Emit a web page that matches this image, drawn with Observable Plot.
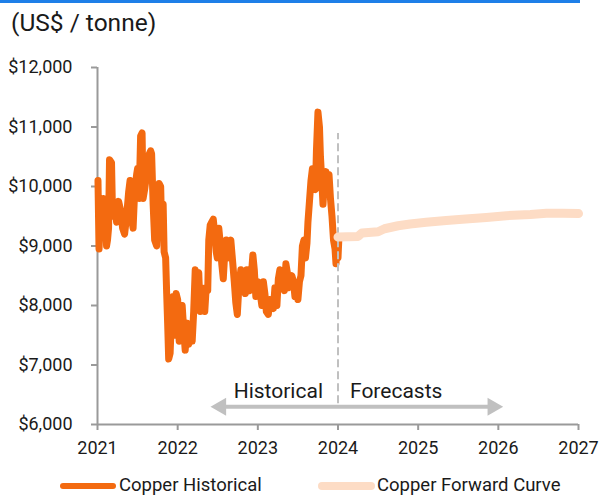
<!DOCTYPE html>
<html><head><meta charset="utf-8">
<script src="https://cdn.jsdelivr.net/npm/d3@7"></script>
<script src="https://cdn.jsdelivr.net/npm/@observablehq/plot@0.6"></script>
<style>
body{margin:0;width:600px;height:495px;position:relative;background:#fff;font-family:Roboto,sans-serif;color:#1a1a1a;overflow:hidden}
#bar{position:absolute;left:0;top:0;width:580px;height:3px;background:#1E7FE8}
#title{position:absolute;left:11px;top:7px;font-size:24.5px;line-height:32px}
#chart{position:absolute;left:0;top:50px}
#legend{position:absolute;left:0;top:475px;width:600px;height:20px;font-size:18.5px}
.sw{position:absolute;top:7px;height:6px;border-radius:3px}
.lt{position:absolute;top:0;line-height:20px}
</style></head>
<body>
<div id="bar"></div>
<div id="title">(US$ / tonne)</div>
<div id="chart"></div>
<div id="legend"></div>
<script>
const xTicks = [2021, 2022, 2023, 2024, 2025, 2026, 2027];
const yTicks = [6000, 7000, 8000, 9000, 10000, 11000, 12000];

const histYear = [2021.006,2021.019,2021.038,2021.056,2021.075,2021.100,2021.113,2021.125,2021.138,2021.150,
2021.175,2021.188,2021.213,2021.238,2021.263,2021.288,2021.313,2021.338,2021.363,2021.388,
2021.406,2021.425,2021.444,2021.463,2021.488,2021.500,2021.519,2021.538,2021.556,2021.569,
2021.588,2021.613,2021.631,2021.663,2021.675,2021.694,2021.713,2021.738,2021.750,2021.769,
2021.788,2021.800,2021.819,2021.831,2021.850,2021.863,2021.875,2021.888,2021.906,2021.925,
2021.944,2021.963,2021.981,2022.000,2022.019,2022.038,2022.056,2022.075,2022.094,2022.119,
2022.138,2022.163,2022.181,2022.200,2022.219,2022.238,2022.263,2022.281,2022.300,2022.319,
2022.338,2022.356,2022.375,2022.388,2022.406,2022.425,2022.444,2022.463,2022.481,2022.494,
2022.513,2022.531,2022.550,2022.569,2022.588,2022.606,2022.625,2022.644,2022.663,2022.688,
2022.706,2022.725,2022.744,2022.763,2022.788,2022.806,2022.825,2022.844,2022.863,2022.881,
2022.900,2022.919,2022.938,2022.956,2022.975,2023.000,2023.025,2023.050,2023.069,2023.088,
2023.106,2023.131,2023.150,2023.175,2023.194,2023.213,2023.238,2023.256,2023.275,2023.294,
2023.313,2023.331,2023.350,2023.369,2023.388,2023.406,2023.425,2023.444,2023.463,2023.481,
2023.500,2023.519,2023.538,2023.556,2023.575,2023.594,2023.613,2023.625,2023.644,2023.663,
2023.681,2023.700,2023.719,2023.731,2023.750,2023.769,2023.781,2023.794,2023.813,2023.831,
2023.850,2023.869,2023.888,2023.906,2023.925,2023.944,2023.963,2023.975,2023.988,2024.000,
2024.010];
const histPrice = [10100,8950,9500,9200,9800,9650,9000,9100,9300,10450,
10400,9500,9700,9400,9750,9600,9300,9200,9500,9900,
10100,9450,9300,9900,10200,10300,9800,10850,10900,9800,
9950,10200,10500,10600,10550,9700,9100,9000,9400,10050,
10000,9300,9700,8900,8800,8200,7700,7100,7200,7900,
8150,7500,8200,8100,7400,7800,8000,7600,7250,7700,
7350,7500,7400,7900,8600,8500,8550,7900,8300,8200,
7900,8300,8250,9100,9350,9400,9450,9200,8900,8800,
9300,9050,8700,8450,8900,9100,8800,9050,9100,8700,
8400,8050,7850,8300,8600,8300,8500,8200,8600,8350,
8250,8500,8850,8600,8150,8400,8250,8000,8400,8200,
7900,7850,8100,8000,7950,8300,8000,8450,8600,8300,
8450,8250,8700,8550,8300,8450,8500,8400,8150,8350,
8100,8400,8500,9000,9100,8800,9050,9400,9750,10100,
10300,10000,9950,10600,11250,11000,10500,10200,9700,10100,
10250,10000,10200,9800,9500,9100,8950,8700,9000,8800,
9100];

const fwdYear = [2024.00,2024.25,2024.30,2024.50,2024.58,2024.75,2024.90,2025.10,2025.35,2025.55,2025.85,2026.10,2026.40,2026.60,2026.80,2027.00];
const fwdPrice = [9150,9160,9220,9240,9290,9340,9370,9400,9430,9450,9480,9510,9530,9550,9550,9545];

const seriesNames = ["Copper Historical", "Copper Forward Curve"];
const seriesColors = ["#F36A10", "#FDDCC5"];

const annoText = ["Historical", "Forecasts"];
const divideYear = 2024;
const arrowFrom = 2022.41, arrowTo = 2026.06, arrowLevel = 6300, labelLevel = 6560;
const dashFrom = 6350, dashTo = 10890;

const hist = histYear.map((x, i) => ({x, y: histPrice[i]}));
const fwd = fwdYear.map((x, i) => ({x, y: fwdPrice[i]}));
const fmt = d3.format(",");
const axisGray = "#9a9a9a";
const arrowGray = "#c0c0c0";

const chart = Plot.plot({
  width: 600, height: 420,
  marginTop: 17, marginBottom: 46, marginLeft: 97, marginRight: 22,
  x: {domain: [2021, 2027]},
  y: {domain: [6000, 12000]},
  style: {fontFamily: "Roboto", fontSize: "18px", color: "#1a1a1a", background: "white", overflow: "visible"},
  marks: [
    Plot.axisY({ticks: yTicks, tickSize: 6, tickPadding: 19, stroke: axisGray, strokeWidth: 2, tickFormat: d => "$" + fmt(d), label: null}),
    Plot.axisX({ticks: xTicks, tickSize: 6, tickPadding: 11, stroke: axisGray, strokeWidth: 2, tickFormat: d => String(d), label: null}),
    Plot.ruleX([2021], {stroke: axisGray, strokeWidth: 2}),
    Plot.ruleY([6000], {stroke: axisGray, strokeWidth: 2}),
    Plot.line(hist, {x: "x", y: "y", stroke: seriesColors[0], strokeWidth: 7, strokeLinejoin: "round", strokeLinecap: "round", curve: "linear"}),
    Plot.ruleX([divideYear], {y1: dashFrom, y2: dashTo, stroke: arrowGray, strokeWidth: 2, strokeDasharray: "8,4"}),
    Plot.line(fwd, {x: "x", y: "y", stroke: seriesColors[1], strokeWidth: 9, strokeLinejoin: "round", strokeLinecap: "round"}),
    Plot.ruleY([arrowLevel], {x1: arrowFrom + 0.12, x2: arrowTo - 0.12, stroke: arrowGray, strokeWidth: 4}),
    Plot.dot([arrowFrom], {x: d => d, y: () => arrowLevel, symbol: "triangle", r: 6.7, fill: arrowGray, stroke: null, rotate: -90, dx: 10.4}),
    Plot.dot([arrowTo], {x: d => d, y: () => arrowLevel, symbol: "triangle", r: 6.7, fill: arrowGray, stroke: null, rotate: 90, dx: -10.4}),
    Plot.text([annoText[0]], {x: () => divideYear, y: () => labelLevel, text: d => d, textAnchor: "end", dx: -15, fontSize: 21, fill: "#1a1a1a"}),
    Plot.text([annoText[1]], {x: () => divideYear, y: () => labelLevel, text: d => d, textAnchor: "start", dx: 12, fontSize: 21, fill: "#1a1a1a"})
  ]
});
document.getElementById("chart").appendChild(chart);

const legend = document.getElementById("legend");
const legendPos = [[60, 56, 119, 6], [318, 57, 377, 8]];
seriesNames.forEach((name, i) => {
  const [sx, sw, tx, th] = legendPos[i];
  const s = document.createElement("div");
  s.className = "sw";
  s.style.left = sx + "px"; s.style.width = sw + "px"; s.style.background = seriesColors[i];
  s.style.height = th + "px"; s.style.top = (11 - th / 2) + "px"; s.style.borderRadius = (th / 2) + "px";
  legend.appendChild(s);
  const t = document.createElement("div");
  t.className = "lt"; t.style.left = tx + "px"; t.textContent = name;
  legend.appendChild(t);
});
</script>
</body></html>
